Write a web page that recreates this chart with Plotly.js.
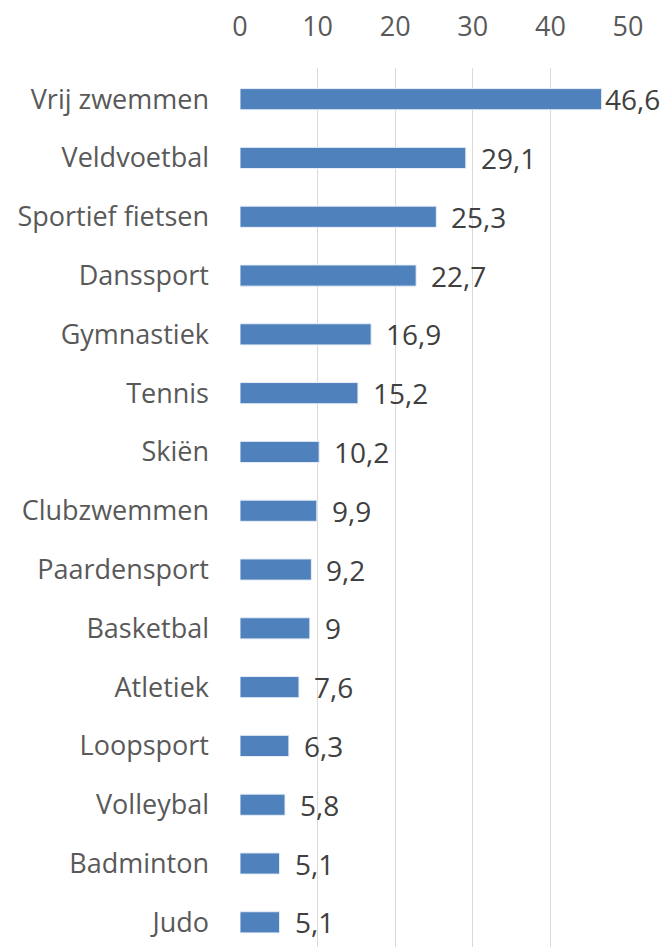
<!DOCTYPE html>
<html>
<head>
<meta charset="utf-8">
<script src="https://cdn.plot.ly/plotly-3.0.1.min.js"></script>
<style>html,body{margin:0;padding:0;background:#fff;}#chart{width:670px;height:947px;}</style>
</head>
<body>
<div id="chart"></div>
<script>
const categories = ["Vrij zwemmen","Veldvoetbal","Sportief fietsen","Danssport","Gymnastiek","Tennis","Skiën","Clubzwemmen","Paardensport","Basketbal","Atletiek","Loopsport","Volleybal","Badminton","Judo"];
const values = [46.6, 29.1, 25.3, 22.7, 16.9, 15.2, 10.2, 9.9, 9.2, 9, 7.6, 6.3, 5.8, 5.1, 5.1];
const xTickVals = [0, 10, 20, 30, 40, 50];

const labels = values.map(v => String(v).replace('.', ','));
const font = "'Open Sans', sans-serif";

const annotations = values.map((v, i) => ({
  x: v, y: categories[i], xref: 'x', yref: 'y',
  text: labels[i], showarrow: false,
  xanchor: 'left', yanchor: 'middle',
  xshift: v > 40 ? 1 : 13, yshift: 0,
  font: {family: font, size: 28, color: '#404040'}
}));

Plotly.newPlot('chart', [{
  type: 'bar',
  orientation: 'h',
  y: categories,
  x: values,
  width: 0.36,
  marker: {color: '#4f81bd', line: {color: '#e8eef7', width: 1}},
  cliponaxis: false,
  hoverinfo: 'none'
}], {
  width: 670, height: 947,
  margin: {l: 240, r: 42, t: 68, b: 0},
  paper_bgcolor: '#fff', plot_bgcolor: '#fff',
  showlegend: false,
  annotations: annotations,
  xaxis: {
    side: 'top', range: [0, 50], tickvals: xTickVals,
    showgrid: true, gridcolor: '#d9d9d9', gridwidth: 1.3,
    zeroline: false, showline: false, ticks: '',
    ticklabelstandoff: 26,
    tickfont: {family: font, size: 27, color: '#595959'},
    fixedrange: true
  },
  yaxis: {
    type: 'category', range: [14.42, -0.53],
    showgrid: false, zeroline: false, showline: false, ticks: '',
    ticklabelstandoff: 30,
    tickfont: {family: font, size: 27, color: '#595959'},
    fixedrange: true
  }
}, {displayModeBar: false, staticPlot: true});
</script>
</body>
</html>
